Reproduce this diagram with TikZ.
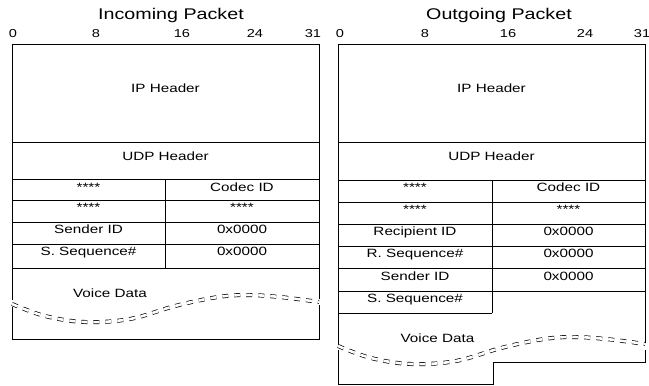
\documentclass[tikz,border=0pt]{standalone}
\usepackage{fontspec}
\setmainfont{Liberation Sans}[FakeStretch=1.27]
\begin{document}
\begin{tikzpicture}[x=1pt,y=-1pt,line width=0.8pt,
  lbl/.style={font=\fontsize{12}{14}\selectfont,anchor=base,inner sep=0pt},
  ttl/.style={font=\fontsize{15.5}{18}\selectfont,anchor=base,inner sep=0pt},
  num/.style={font=\fontsize{11.5}{13}\selectfont,anchor=base,inner sep=0pt},
  wave/.style={dash pattern=on 6pt off 6pt,double,double distance=2.6pt,line width=0.7pt}]
\useasboundingbox (0,0) rectangle (649,386);
% ---------------- Incoming packet ----------------
\node[ttl] (tin) at (171,19.5) {Incoming Packet};
\node[num] (i0) at (13,37.5) {0};
\node[num] (i8) at (96,37.5) {8};
\node[num] (i16) at (182,37.5) {16};
\node[num] (i24) at (255,37.5) {24};
\node[num] (i31) at (313,37.5) {31};
\draw (12,300) -- (12,44) -- (319,44) -- (319,299);
\draw (12,307) -- (12,339) -- (319,339) -- (319,305);
\foreach \yy in {142,179,200,222,244,268} \draw (12,\yy) -- (319,\yy);
\draw (165,179) -- (165,268);
\node[lbl] (iip) at (165.5,92) {IP Header};
\node[lbl] (iudp) at (165.5,160) {UDP Header};
\node[lbl] (ia1) at (88.5,191.5) {****};
\node[lbl] (icodec) at (242,191.5) {Codec ID};
\node[lbl] (ia2) at (88.5,211.5) {****};
\node[lbl] (ia3) at (242,211.5) {****};
\node[lbl] (isid) at (88.5,233) {Sender ID};
\node[lbl] (iv1) at (242,233) {0x0000};
\node[lbl] (isseq) at (88.5,255.5) {S. Sequence\#};
\node[lbl] (iv2) at (242,255.5) {0x0000};
\node[lbl] (ivd) at (110,297) {Voice Data};
\draw[wave] plot[smooth,tension=0.6] coordinates {(12,304) (45,316) (85,322) (130,319) (175,306) (215,297.5) (245,295) (280,297) (319,302)};
% ---------------- Outgoing packet ----------------
\node[ttl] (tout) at (499,19.5) {Outgoing Packet};
\node[num] (o0) at (340,37.5) {0};
\node[num] (o8) at (425,37.5) {8};
\node[num] (o16) at (508,37.5) {16};
\node[num] (o24) at (585,37.5) {24};
\node[num] (o31) at (642,37.5) {31};
\draw (338,345) -- (338,44) -- (645,44) -- (645,343);
\draw (338,350) -- (338,384) -- (493,384) -- (493,362) -- (645,362) -- (645,350);
\foreach \yy in {142,180,202,224,246,268,291} \draw (338,\yy) -- (645,\yy);
\draw (338,313) -- (492,313);
\draw (492,180) -- (492,313);
\node[lbl] (oip) at (491.5,92) {IP Header};
\node[lbl] (oudp) at (491.5,160) {UDP Header};
\node[lbl] (oa1) at (415,191.5) {****};
\node[lbl] (ocodec) at (568.5,191.5) {Codec ID};
\node[lbl] (oa2) at (415,213) {****};
\node[lbl] (oa3) at (568.5,213) {****};
\node[lbl] (orid) at (415,235) {Recipient ID};
\node[lbl] (ov1) at (568.5,235) {0x0000};
\node[lbl] (orseq) at (415,257) {R. Sequence\#};
\node[lbl] (ov2) at (568.5,257) {0x0000};
\node[lbl] (osid) at (415,280) {Sender ID};
\node[lbl] (ov3) at (568.5,280) {0x0000};
\node[lbl] (osseq) at (415,302) {S. Sequence\#};
\node[lbl] (ovd) at (437.5,342) {Voice Data};
\begin{scope}[shift={(326,42)}]
\draw[wave] plot[smooth,tension=0.6] coordinates {(12,304) (45,316) (85,322) (130,319) (175,306) (215,297.5) (245,295) (280,297) (319,302)};
\end{scope}
\end{tikzpicture}
\end{document}
